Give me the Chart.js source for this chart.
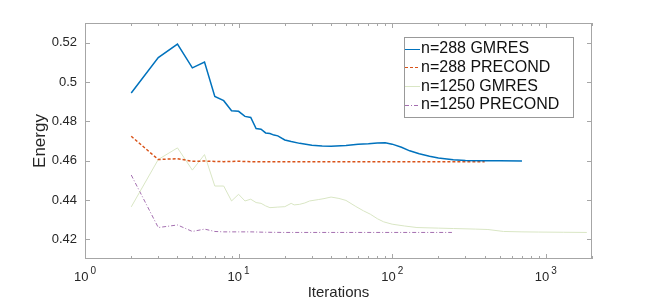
<!DOCTYPE html>
<html>
<head>
<meta charset="utf-8">
<script src="https://cdn.jsdelivr.net/npm/chart.js@4"></script>
<style>
  html, body { margin: 0; padding: 0; background: #fff; }
  #chart { display: block; }
</style>
</head>
<body>
<canvas id="chart" width="654" height="302"></canvas>
<script>
// --- dane ---
const gmres288X = [2, 3, 4, 5, 6, 7, 8, 9, 10, 11, 12, 13, 14, 15, 16, 17, 18, 20, 22, 25, 30, 35, 40, 50, 60, 70, 80, 90, 100, 115, 130, 150, 175, 200, 250, 300, 400, 500, 700];
const gmres288Y = [0.4944, 0.5124, 0.5193, 0.5072, 0.5101, 0.4927, 0.4905, 0.4854, 0.4851, 0.4825, 0.4820, 0.4763, 0.4760, 0.4741, 0.4738, 0.4730, 0.4726, 0.4705, 0.4697, 0.4688, 0.4678, 0.4674, 0.4673, 0.4677, 0.4683, 0.4686, 0.4690, 0.4691, 0.4684, 0.4668, 0.4650, 0.4635, 0.4623, 0.4614, 0.4605, 0.4601, 0.4599, 0.4599, 0.4598];

const precond288X = [2, 3, 4, 5, 6, 7, 8, 10, 12, 15, 20, 50, 100, 200, 400];
const precond288Y = [0.4724, 0.4606, 0.4610, 0.4597, 0.4598, 0.4596, 0.4595, 0.4597, 0.4595, 0.4594, 0.4594, 0.4594, 0.4594, 0.4594, 0.4594];

const gmres1250X = [2, 3, 4, 5, 6, 7, 8, 9, 10, 11, 12, 13, 14, 15, 16, 18, 20, 22, 23, 25, 27, 29, 33, 36, 40, 45, 50, 58, 65, 72, 80, 88, 100, 120, 145, 200, 250, 350, 420, 530, 700, 900, 1300, 1850];
const gmres1250Y = [0.4365, 0.4606, 0.4665, 0.4552, 0.4631, 0.4471, 0.4471, 0.4395, 0.4429, 0.4395, 0.4404, 0.4387, 0.4383, 0.4370, 0.4361, 0.4364, 0.4366, 0.4383, 0.4375, 0.4378, 0.4385, 0.4395, 0.4402, 0.4407, 0.4415, 0.4408, 0.4398, 0.4367, 0.4345, 0.4328, 0.4305, 0.4289, 0.4277, 0.4268, 0.4260, 0.4257, 0.4255, 0.4252, 0.4250, 0.4240, 0.4238, 0.4237, 0.4236, 0.4235];

const precond1250X = [2, 3, 4, 5, 6, 7, 8, 10, 12, 15, 20, 50, 100, 245];
const precond1250Y = [0.4527, 0.4260, 0.4273, 0.4240, 0.4252, 0.4240, 0.4238, 0.4238, 0.4238, 0.4236, 0.4235, 0.4235, 0.4235, 0.4235];

const seriesLabels = ['n=288 GMRES', 'n=288 PRECOND', 'n=1250 GMRES', 'n=1250 PRECOND'];

// ticki osi
const xMajorTicks = [1, 10, 100, 1000];
const xMajorExp = ['0', '1', '2', '3'];
const xMinorTicks = [2, 3, 4, 5, 6, 7, 8, 9, 20, 30, 40, 50, 60, 70, 80, 90, 200, 300, 400, 500, 600, 700, 800, 900, 2000];
const yTicks = [0.42, 0.44, 0.46, 0.48, 0.5, 0.52];

const FONT = "'Liberation Sans', Arial, Helvetica, sans-serif";
const AXIS_GRAY = '#a6a6a6';
const TEXT_COLOR = '#262626';

function toPoints(xs, ys) {
    return xs.map((x, i) => ({ x: x, y: ys[i] }));
}

// --- plugin: ramka osi i ticki do środka (styl MATLAB) ---
const axesBoxPlugin = {
    id: 'axesBox',
    beforeDatasetsDraw(chart) {
        const { ctx, chartArea: a, scales } = chart;
        ctx.save();
        ctx.strokeStyle = AXIS_GRAY;
        ctx.lineWidth = 1;
        ctx.strokeRect(Math.round(a.left) + 0.5, Math.round(a.top) + 0.5,
            Math.round(a.right - a.left) - 1, Math.round(a.bottom - a.top) - 1);

        ctx.beginPath();
        const drawX = (vals, len) => {
            vals.forEach(v => {
                const px = Math.round(scales.x.getPixelForValue(v)) + 0.5;
                ctx.moveTo(px, a.bottom);
                ctx.lineTo(px, a.bottom - len);
                ctx.moveTo(px, a.top);
                ctx.lineTo(px, a.top + len);
            });
        };
        drawX(xMajorTicks, 5);
        drawX(xMinorTicks, 3);
        yTicks.forEach(v => {
            const py = Math.round(scales.y.getPixelForValue(v)) + 0.5;
            ctx.moveTo(a.left, py);
            ctx.lineTo(a.left + 5, py);
            ctx.moveTo(a.right, py);
            ctx.lineTo(a.right - 5, py);
        });
        ctx.stroke();

        // etykiety osi X w postaci 10^n (wykładnik w indeksie górnym)
        ctx.fillStyle = TEXT_COLOR;
        ctx.textBaseline = 'alphabetic';
        ctx.textAlign = 'left';
        xMajorTicks.forEach((v, i) => {
            const px = scales.x.getPixelForValue(v);
            ctx.font = '13px ' + FONT;
            const baseW = ctx.measureText('10').width;
            ctx.font = '10px ' + FONT;
            const expW = ctx.measureText(xMajorExp[i]).width;
            const gap = 2;
            const x0 = px - (baseW + gap + expW) / 2;
            ctx.font = '13px ' + FONT;
            ctx.fillText('10', x0, a.bottom + 22);
            ctx.font = '10px ' + FONT;
            ctx.fillText(xMajorExp[i], x0 + baseW + gap, a.bottom + 15);
        });
        ctx.restore();
    }
};

// --- plugin: legenda wewnątrz wykresu ---
const insideLegendPlugin = {
    id: 'insideLegend',
    afterDatasetsDraw(chart) {
        const ctx = chart.ctx;
        const box = { left: 404.5, top: 37.5, right: 573.5, bottom: 117.5 };
        ctx.save();
        ctx.fillStyle = '#fff';
        ctx.fillRect(box.left, box.top, box.right - box.left, box.bottom - box.top);
        ctx.strokeStyle = '#999';
        ctx.lineWidth = 1;
        ctx.strokeRect(box.left, box.top, box.right - box.left, box.bottom - box.top);

        ctx.font = '16px ' + FONT;
        ctx.textBaseline = 'middle';
        chart.data.datasets.forEach((ds, i) => {
            const y = 48.5 + i * 18.8;
            ctx.beginPath();
            ctx.strokeStyle = ds.borderColor;
            ctx.lineWidth = 1;
            ctx.setLineDash(ds.borderDash || []);
            ctx.moveTo(405, Math.round(y) + 0.5);
            ctx.lineTo(420, Math.round(y) + 0.5);
            ctx.stroke();
            ctx.setLineDash([]);
            ctx.fillStyle = '#111';
            ctx.fillText(ds.label, 421, y);
        });
        ctx.restore();
    }
};

const ctx = document.getElementById('chart').getContext('2d');

new Chart(ctx, {
    type: 'line',
    data: {
        datasets: [
            {
                label: seriesLabels[0],
                data: toPoints(gmres288X, gmres288Y),
                borderColor: '#0072BD',
                borderWidth: 1.5
            },
            {
                label: seriesLabels[1],
                data: toPoints(precond288X, precond288Y),
                borderColor: '#D95319',
                borderWidth: 1.5,
                borderDash: [3, 2]
            },
            {
                label: seriesLabels[2],
                data: toPoints(gmres1250X, gmres1250Y),
                borderColor: '#d9e6c4',
                borderWidth: 1
            },
            {
                label: seriesLabels[3],
                data: toPoints(precond1250X, precond1250Y),
                borderColor: '#a46fb0',
                borderWidth: 1,
                borderDash: [4, 2, 1, 2]
            }
        ]
    },
    options: {
        responsive: false,
        animation: false,
        layout: { padding: { top: 23, right: 62, left: 0, bottom: 0 } },
        elements: {
            point: { radius: 0 },
            line: { tension: 0, fill: false }
        },
        plugins: {
            legend: { display: false },
            tooltip: { enabled: false }
        },
        scales: {
            x: {
                type: 'logarithmic',
                min: 1,
                max: 2000,
                border: { display: false },
                grid: { display: false, drawTicks: false },
                afterBuildTicks: (scale) => {
                    scale.ticks = xMajorTicks.map(v => ({ value: v }));
                },
                afterFit: (scale) => { scale.height = 43; },
                ticks: {
                    autoSkip: false,
                    maxRotation: 0,
                    // etykiety rysowane w pluginie (indeks górny)
                    callback: () => ''
                },
                title: {
                    display: true,
                    text: 'Iterations',
                    color: TEXT_COLOR,
                    font: { family: FONT, size: 15 },
                    padding: { top: 0, bottom: 0 }
                }
            },
            y: {
                min: 0.41,
                max: 0.53,
                border: { display: false },
                grid: { display: false, drawTicks: false },
                afterBuildTicks: (scale) => {
                    scale.ticks = yTicks.map(v => ({ value: v }));
                },
                afterFit: (scale) => { scale.width = 85; },
                ticks: {
                    padding: 8,
                    color: TEXT_COLOR,
                    font: { family: FONT, size: 13 },
                    callback: (v) => String(Number(v.toFixed(2)))
                },
                title: {
                    display: true,
                    text: 'Energy',
                    color: TEXT_COLOR,
                    font: { family: FONT, size: 17 },
                    padding: { top: 30, bottom: 0 }
                }
            }
        }
    },
    plugins: [axesBoxPlugin, insideLegendPlugin]
});
</script>
</body>
</html>
